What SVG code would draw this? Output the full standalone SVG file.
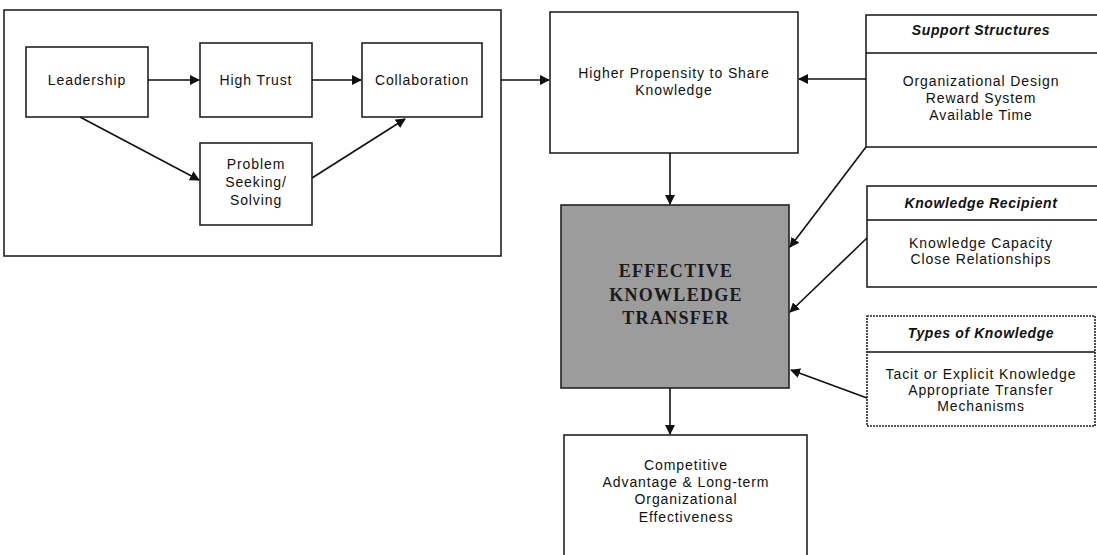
<svg xmlns="http://www.w3.org/2000/svg" width="1097" height="555" viewBox="0 0 1097 555">
<defs>
<marker id="ah" viewBox="0 0 10 10" refX="9" refY="5" markerWidth="10" markerHeight="10" markerUnits="userSpaceOnUse" orient="auto">
<path d="M0,0 L10,5 L0,10 z" fill="#111"/>
</marker>
<style>
.box{fill:#fff;stroke:#222;stroke-width:1.6}
.t{font-family:"Liberation Sans",Arial,sans-serif;font-size:14px;letter-spacing:0.9px;fill:#111;text-anchor:middle}
.h{font-family:"Liberation Sans",Arial,sans-serif;font-size:14px;letter-spacing:0.6px;font-weight:bold;font-style:italic;fill:#111;text-anchor:middle}
.s{font-family:"Liberation Serif","Times New Roman",serif;font-size:18px;letter-spacing:1.3px;font-weight:bold;fill:#1a1a1a;text-anchor:middle}
.c{stroke:#111;stroke-width:1.6;fill:none;marker-end:url(#ah)}
.l{stroke:#111;stroke-width:1.6}
</style>
</defs>
<rect width="1097" height="555" fill="#fff"/>
<g id="group-left"><rect class="box" x="4" y="10" width="497" height="246"/></g>
<g id="leadership"><rect class="box" x="26" y="47" width="122" height="70"/><text class="t" x="87" y="85">Leadership</text></g>
<g id="high-trust"><rect class="box" x="200" y="43" width="112" height="74"/><text class="t" x="256" y="85">High Trust</text></g>
<g id="collaboration"><rect class="box" x="362" y="43" width="120" height="74"/><text class="t" x="422" y="85">Collaboration</text></g>
<g id="problem"><rect class="box" x="200" y="143" width="112" height="82"/><text class="t" x="256" y="169">Problem</text><text class="t" x="256" y="187">Seeking/</text><text class="t" x="256" y="205">Solving</text></g>
<g id="propensity"><rect class="box" x="550" y="12" width="248" height="141"/><text class="t" x="674" y="78">Higher Propensity to Share</text><text class="t" x="674" y="95">Knowledge</text></g>
<g id="support"><rect class="box" x="866" y="15" width="232" height="132"/><line class="l" x1="866" y1="53" x2="1097" y2="53"/><text class="h" x="981" y="35">Support Structures</text><text class="t" x="981" y="86">Organizational Design</text><text class="t" x="981" y="103">Reward System</text><text class="t" x="981" y="120">Available Time</text></g>
<g id="recipient"><rect class="box" x="867" y="186" width="232" height="101"/><line class="l" x1="867" y1="220" x2="1097" y2="220"/><text class="h" x="981" y="208">Knowledge Recipient</text><text class="t" x="981" y="248">Knowledge Capacity</text><text class="t" x="981" y="264">Close Relationships</text></g>
<g id="types"><rect class="box" x="867" y="316" width="228" height="110" stroke-dasharray="2 1"/><line class="l" x1="867" y1="352" x2="1095" y2="352"/><text class="h" x="981" y="338">Types of Knowledge</text><text class="t" x="981" y="379">Tacit or Explicit Knowledge</text><text class="t" x="981" y="395">Appropriate Transfer</text><text class="t" x="981" y="411">Mechanisms</text></g>
<g id="ekt"><rect x="561" y="205" width="228" height="183" fill="#9c9c9c" stroke="#222" stroke-width="1.6"/><text class="s" x="676" y="277">EFFECTIVE</text><text class="s" x="676" y="301">KNOWLEDGE</text><text class="s" x="676" y="324">TRANSFER</text></g>
<g id="competitive"><rect class="box" x="564" y="435" width="243" height="130"/><text class="t" x="686" y="470">Competitive</text><text class="t" x="686" y="487">Advantage &amp; Long-term</text><text class="t" x="686" y="504">Organizational</text><text class="t" x="686" y="522">Effectiveness</text></g>
<g id="connectors">
<line class="c" x1="148" y1="80" x2="199" y2="80"/>
<line class="c" x1="312" y1="80" x2="361" y2="80"/>
<line class="c" x1="80" y1="117" x2="199" y2="180"/>
<line class="c" x1="312" y1="178" x2="405" y2="119"/>
<line class="c" x1="501" y1="80" x2="549" y2="80"/>
<line class="c" x1="866" y1="79" x2="799" y2="79"/>
<line class="c" x1="670" y1="153" x2="670" y2="204"/>
<line class="c" x1="670" y1="388" x2="670" y2="434"/>
<line class="c" x1="866" y1="147" x2="790" y2="247"/>
<line class="c" x1="867" y1="238" x2="790" y2="312"/>
<line class="c" x1="867" y1="398" x2="791" y2="370"/>
</g>
</svg>
